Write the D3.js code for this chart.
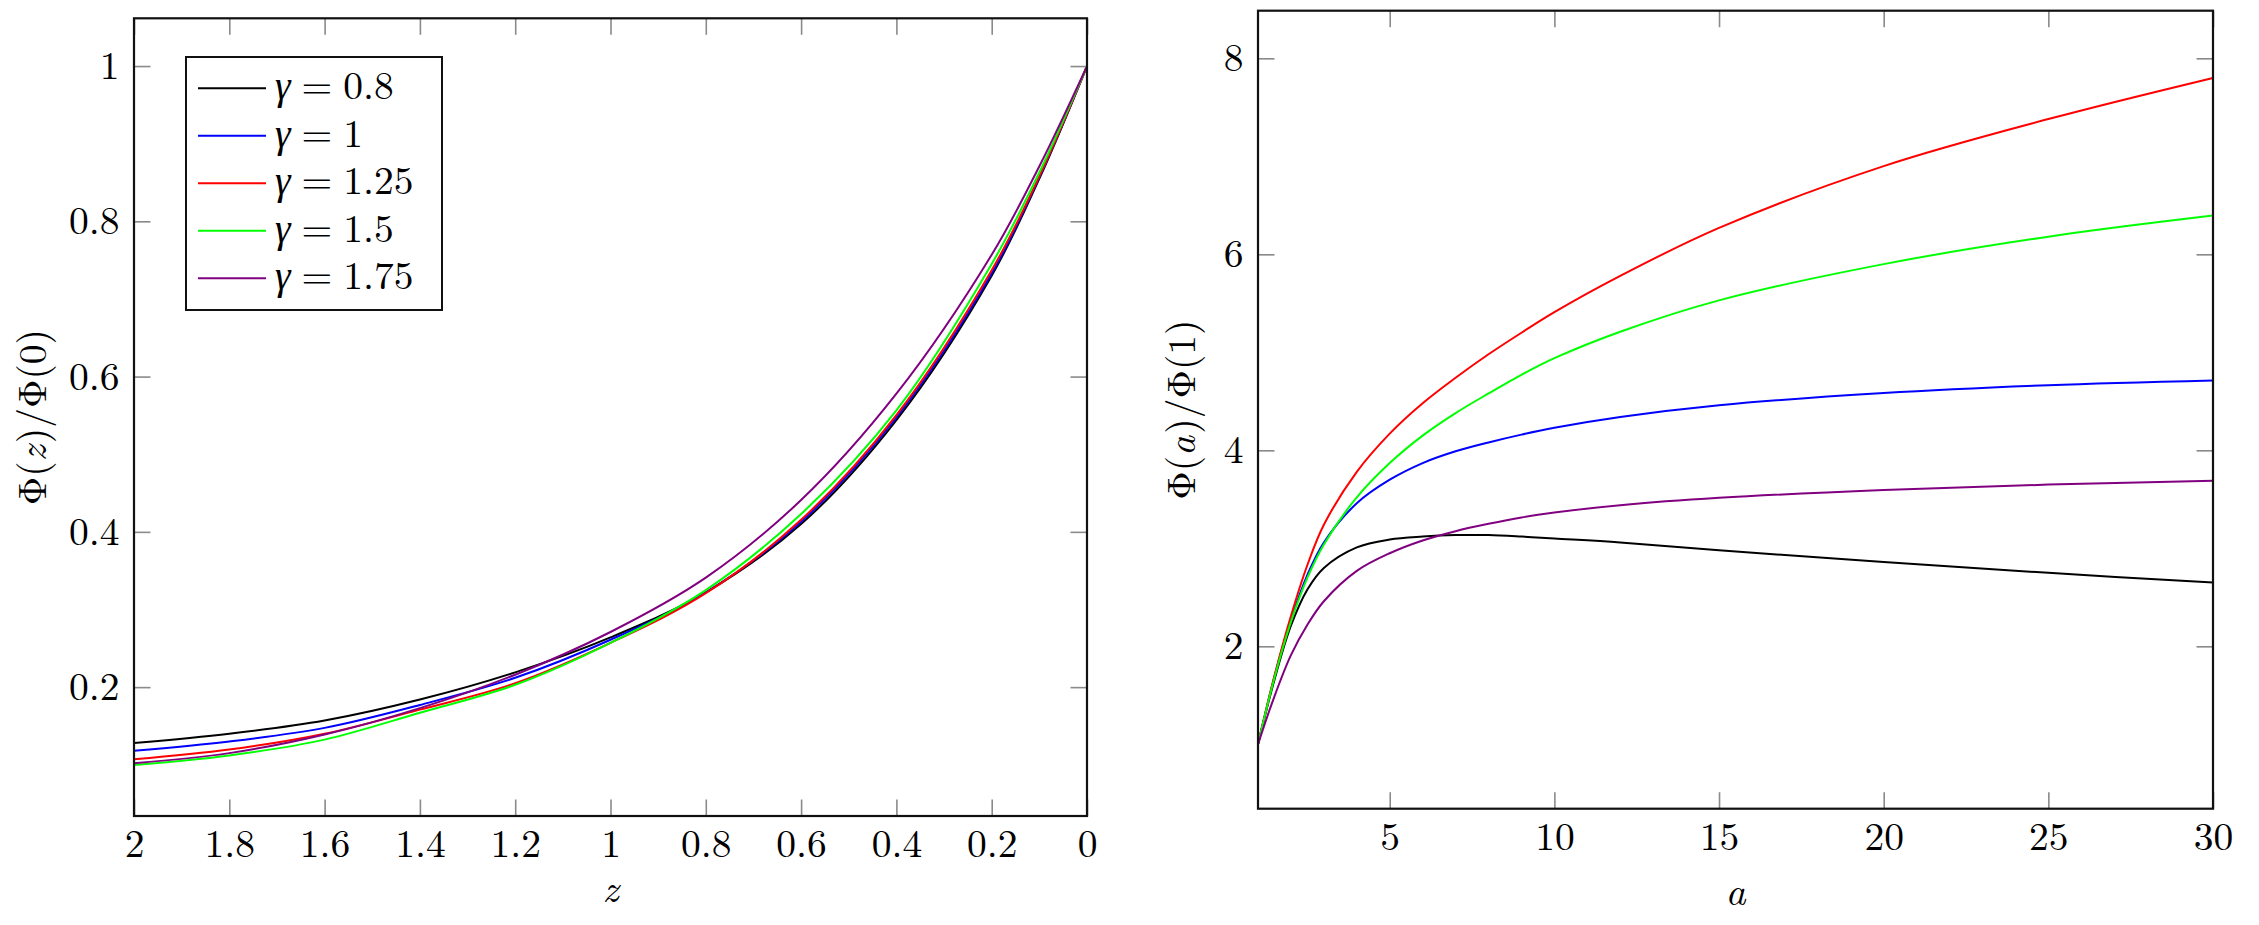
<!DOCTYPE html>
<html>
<head>
<meta charset="utf-8">
<script src="https://cdn.jsdelivr.net/npm/d3@7"></script>
<style>
  html, body { margin: 0; padding: 0; background: #fff; }
  svg { display: block; }
</style>
</head>
<body>
<svg id="chart" width="2259" height="925"></svg>
<script>
// ---- left panel: Phi(z)/Phi(0) against z ----
const zValues = [0, 0.1, 0.2, 0.4, 0.6, 0.8, 1.0, 1.2, 1.4, 1.6, 1.8, 2.0];
const leftGamma080 = [1, 0.855, 0.730, 0.544, 0.410, 0.322, 0.264, 0.219, 0.184, 0.157, 0.140, 0.128];
const leftGamma100 = [1, 0.8565, 0.733, 0.5475, 0.413, 0.322, 0.261, 0.212, 0.177, 0.1475, 0.130, 0.118];
const leftGamma125 = [1, 0.858, 0.737, 0.5505, 0.4155, 0.321, 0.257, 0.205, 0.171, 0.140, 0.1196, 0.107];
const leftGamma150 = [1, 0.863, 0.745, 0.5565, 0.423, 0.325, 0.257, 0.203, 0.167, 0.1324, 0.112, 0.0996];
const leftGamma175 = [1, 0.871, 0.757, 0.578, 0.441, 0.341, 0.271, 0.216, 0.173, 0.139, 0.115, 0.102];

// ---- right panel: Phi(a)/Phi(1) against a ----
const aValues = [1, 1.5, 2, 2.5, 3, 4, 5, 6, 7, 8, 9, 10, 12, 15, 20, 25, 30];
const rightGamma080 = [1, 1.66, 2.21, 2.58, 2.80, 3.01, 3.09, 3.12, 3.135, 3.135, 3.12, 3.10, 3.06, 2.98, 2.86, 2.75, 2.65];
const rightGamma100 = [1, 1.69, 2.27, 2.73, 3.06, 3.46, 3.70, 3.87, 3.99, 4.08, 4.16, 4.23, 4.34, 4.46, 4.585, 4.665, 4.713];
const rightGamma125 = [1, 1.70, 2.31, 2.83, 3.24, 3.78, 4.17, 4.48, 4.74, 4.98, 5.20, 5.41, 5.78, 6.27, 6.90, 7.38, 7.80];
const rightGamma150 = [1, 1.68, 2.25, 2.70, 3.04, 3.52, 3.87, 4.15, 4.38, 4.58, 4.77, 4.94, 5.21, 5.53, 5.90, 6.18, 6.395];
const rightGamma175 = [1, 1.49, 1.91, 2.22, 2.46, 2.77, 2.95, 3.08, 3.175, 3.25, 3.315, 3.365, 3.44, 3.515, 3.595, 3.65, 3.69];

const gammaLabels = ["0.8", "1", "1.25", "1.5", "1.75"];
const lineColors = ["#000000", "#0000ff", "#ff0000", "#00ff00", "#800080"];

const leftXTicks = [2, 1.8, 1.6, 1.4, 1.2, 1, 0.8, 0.6, 0.4, 0.2, 0];
const leftYTicks = [0.2, 0.4, 0.6, 0.8, 1];
const rightXTicks = [5, 10, 15, 20, 25, 30];
const rightYTicks = [2, 4, 6, 8];

const leftSeries = [leftGamma080, leftGamma100, leftGamma125, leftGamma150, leftGamma175];
const rightSeries = [rightGamma080, rightGamma100, rightGamma125, rightGamma150, rightGamma175];

const svg = d3.select("#chart");
const lmFont = "'Latin Modern Roman', serif";
const greekFont = "'Liberation Serif', serif";
const fontSize = 39.5;
const tickLen = 16.5;

// put the latex-like face on a text element
function texText(sel) {
    return sel.attr("font-family", null)
        .attr("font-size", null)
        .style("font-family", lmFont)
        .style("font-size", fontSize + "px")
        .attr("fill", "#000");
}

// writes a run of pieces (upright / italic) as separate texts laid side by side
function writeRuns(parent, runs, transform, baseline, anchor) {
    const g = parent.append("g").attr("transform", transform);
    const nodes = runs.map(r => {
        const t = g.append("text").attr("y", baseline).call(texText).text(r.t);
        if (r.italic) t.style("font-style", "italic");
        if (r.fam) t.style("font-family", r.fam);
        return t;
    });
    const widths = nodes.map(n => n.node().getComputedTextLength());
    const total = d3.sum(widths) + d3.sum(runs.slice(0, -1), r => r.gap || 0);
    let cx = anchor === "middle" ? -total / 2 : 0;
    nodes.forEach((n, i) => {
        n.attr("x", cx);
        cx += widths[i] + (runs[i].gap || 0);
    });
    return g;
}

// draws one framed pgfplots-like panel
function drawPanel(opts) {
    const g = svg.append("g");
    const x = opts.x, y = opts.y;
    const [x0, x1] = [Math.min(...x.range()), Math.max(...x.range())];
    const [y0, y1] = [Math.min(...y.range()), Math.max(...y.range())];

    // curves
    const line = d3.line()
        .x(d => x(d[0]))
        .y(d => y(d[1]))
        .curve(d3.curveCatmullRom.alpha(0.5));

    opts.series.forEach((vals, i) => {
        let pts = opts.xs.map((v, j) => [v, vals[j]]);
        pts.sort((p, q) => x(p[0]) - x(q[0]));
        g.append("path")
            .attr("d", line(pts))
            .attr("fill", "none")
            .attr("stroke", lineColors[i])
            .attr("stroke-width", 2);
    });

    const fmt = d3.format("~g");

    // bottom axis with labels, ticks pointing inward
    const bottom = g.append("g")
        .attr("transform", `translate(0,${y1})`)
        .call(d3.axisBottom(x).tickValues(opts.xTicks).tickFormat(fmt)
            .tickSizeInner(-tickLen).tickSizeOuter(0).tickPadding(0));
    bottom.select(".domain").remove();
    bottom.selectAll("text").attr("y", 41).attr("dy", null);

    const top = g.append("g")
        .attr("transform", `translate(0,${y0})`)
        .call(d3.axisTop(x).tickValues(opts.xTicks).tickFormat("")
            .tickSizeInner(-tickLen).tickSizeOuter(0));
    top.select(".domain").remove();

    const left = g.append("g")
        .attr("transform", `translate(${x0},0)`)
        .call(d3.axisLeft(y).tickValues(opts.yTicks).tickFormat(fmt)
            .tickSizeInner(-tickLen).tickSizeOuter(0).tickPadding(0));
    left.select(".domain").remove();
    left.selectAll("text").attr("x", -14.5).attr("dy", "0.32em");

    const right = g.append("g")
        .attr("transform", `translate(${x1},0)`)
        .call(d3.axisRight(y).tickValues(opts.yTicks).tickFormat("")
            .tickSizeInner(-tickLen).tickSizeOuter(0));
    right.select(".domain").remove();

    g.selectAll(".tick line").attr("stroke", "#8a8a8a").attr("stroke-width", 1.6);
    g.selectAll("g").attr("font-family", null).attr("font-size", null);
    g.selectAll(".tick text").call(texText);

    // frame
    g.append("rect")
        .attr("x", x0).attr("y", y0)
        .attr("width", x1 - x0).attr("height", y1 - y0)
        .attr("fill", "none")
        .attr("stroke", "#111")
        .attr("stroke-width", 2.2);

    // x label
    g.append("text")
        .attr("x", (x0 + x1) / 2)
        .attr("y", opts.xLabelY)
        .attr("text-anchor", "middle")
        .call(texText)
        .style("font-style", "italic")
        .text(opts.xLabel);

    // y label, rotated
    writeRuns(g, [
        { t: "Φ(" },
        { t: opts.xLabel, italic: true, gap: 2 },
        { t: ")/Φ(" + opts.yRef + ")" }
    ], `translate(${opts.yLabelX},${(y0 + y1) / 2}) rotate(-90)`, 13, "middle");

    return g;
}

const leftPanel = drawPanel({
    x: d3.scaleLinear().domain([2, 0]).range([134, 1087]),
    y: d3.scaleLinear().domain([0.034, 1.0615]).range([816, 18.3]),
    xs: zValues,
    series: leftSeries,
    xTicks: leftXTicks,
    yTicks: leftYTicks,
    xLabel: "z",
    xLabelY: 902,
    yLabelX: 33,
    yRef: "0"
});

drawPanel({
    x: d3.scaleLinear().domain([1, 30]).range([1258, 2213]),
    y: d3.scaleLinear().domain([0.343, 8.486]).range([808.7, 10.7]),
    xs: aValues,
    series: rightSeries,
    xTicks: rightXTicks,
    yTicks: rightYTicks,
    xLabel: "a",
    xLabelY: 905,
    yLabelX: 1182,
    yRef: "1"
});

// legend in the left panel
const legend = leftPanel.append("g");
legend.append("rect")
    .attr("x", 186).attr("y", 57)
    .attr("width", 256).attr("height", 253)
    .attr("fill", "#fff")
    .attr("stroke", "#111")
    .attr("stroke-width", 2);

gammaLabels.forEach((lab, i) => {
    const rowY = 88.3 + i * 47.5;
    legend.append("line")
        .attr("x1", 198).attr("x2", 266)
        .attr("y1", rowY).attr("y2", rowY)
        .attr("stroke", lineColors[i])
        .attr("stroke-width", 2);
    writeRuns(legend, [
        { t: "γ", italic: true, fam: greekFont, gap: 11 },
        { t: "=", gap: 11 },
        { t: lab }
    ], `translate(275,${rowY + 10.7})`, 0, "start");
});
</script>
</body>
</html>
